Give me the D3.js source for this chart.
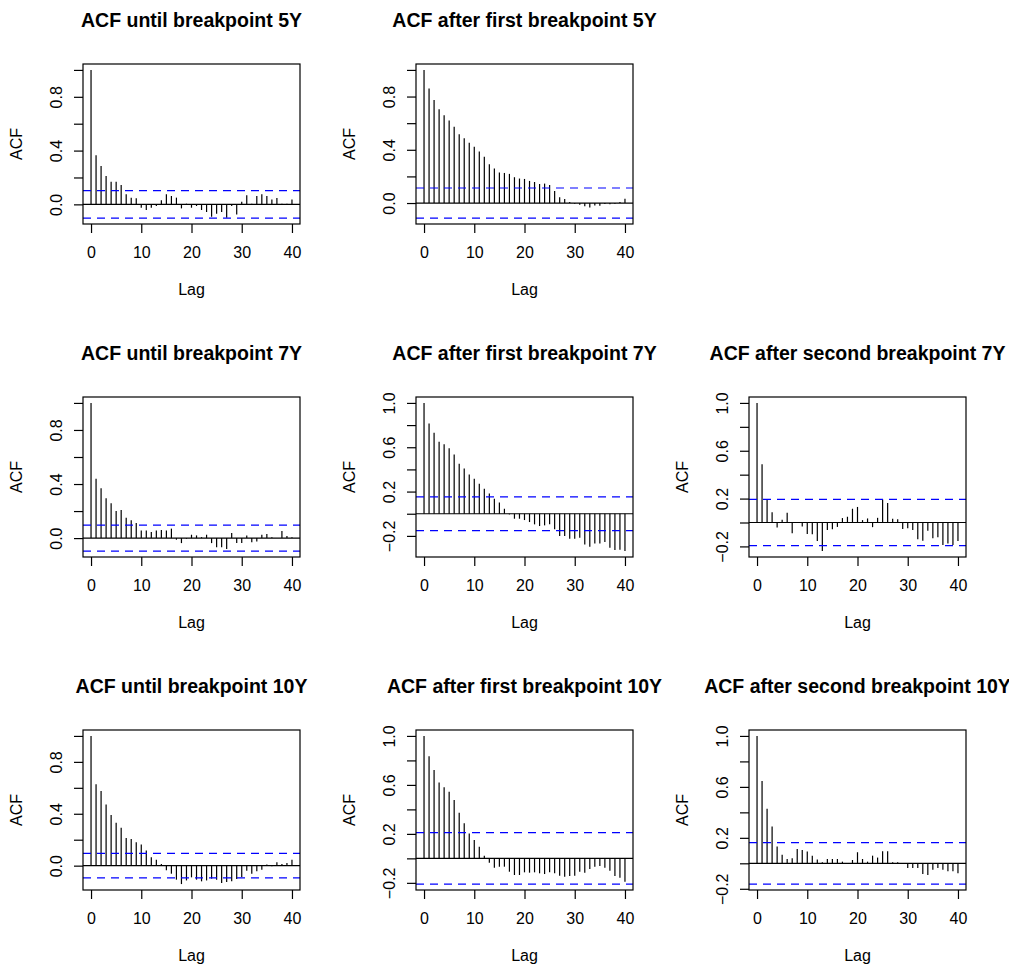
<!DOCTYPE html>
<meta charset="utf-8">
<head>
	<title>ACF by breakpoint</title>
</head>

<style>

body{
	margin: 0;
	background-color: #fff;
}

svg{
	display: block;
	font-family: "Liberation Sans", Arial, Helvetica, sans-serif;
}

.bar, .zero{
	stroke: #000;
	stroke-width: 1.2;
}

.conf{
	stroke: #0000ff;
	stroke-width: 1.2;
	stroke-dasharray: 8,6;
}

.frame{
	fill: none;
	stroke: #000;
	stroke-width: 1.2;
}

.axis text{
	font-size: 16px;
	fill: #000;
}

.axis line{
	stroke: #000;
	stroke-width: 1.2;
}

.title{
	font-size: 19.5px;
	font-weight: bold;
}

.lab{
	font-size: 16px;
}

</style>

<body>

<svg width="1009" height="967"></svg>

<script src="https://cdnjs.cloudflare.com/ajax/libs/d3/7.8.5/d3.min.js"></script>
<script>

// titles of each panel (row, col in the 3x3 grid)
var titles = [
	'ACF until breakpoint 5Y',
	'ACF after first breakpoint 5Y',
	'ACF until breakpoint 7Y',
	'ACF after first breakpoint 7Y',
	'ACF after second breakpoint 7Y',
	'ACF until breakpoint 10Y',
	'ACF after first breakpoint 10Y',
	'ACF after second breakpoint 10Y'
];
var gridRow = [0, 0, 1, 1, 1, 2, 2, 2];
var gridCol = [0, 1, 0, 1, 2, 0, 1, 2];

// confidence bound (blue dashed lines)
var clims = [0.102, 0.113, 0.096, 0.152, 0.193, 0.094, 0.21, 0.163];

// acf values, lag 0..40
var acf5Until = [1.0, 0.365, 0.286, 0.211, 0.169, 0.169, 0.144, 0.075, 0.05, 0.045,
	-0.025, -0.042, -0.025, -0.012, 0.03, 0.075, 0.062, 0.05, -0.03, 0.005,
	-0.025, -0.012, -0.042, -0.057, -0.092, -0.07, -0.057, -0.1, -0.012, -0.075,
	0.02, 0.067, 0.005, 0.062, 0.075, 0.062, 0.037, 0.047, 0.005, 0.005, 0.037];

var acf5First = [1.0, 0.86, 0.775, 0.704, 0.66, 0.62, 0.574, 0.516, 0.486, 0.453,
	0.423, 0.387, 0.347, 0.292, 0.259, 0.229, 0.226, 0.219, 0.194, 0.184,
	0.181, 0.166, 0.158, 0.143, 0.146, 0.136, 0.09, 0.043, 0.03, 0.008,
	-0.005, -0.013, -0.025, -0.033, -0.018, -0.02, -0.008, -0.01, -0.005, 0.008, 0.033];

var acf7Until = [1.0, 0.439, 0.369, 0.294, 0.257, 0.2, 0.207, 0.15, 0.132, 0.112,
	0.057, 0.057, 0.045, 0.057, 0.06, 0.057, 0.07, -0.012, -0.037, -0.005,
	0.025, 0.02, 0.007, 0.025, -0.037, -0.067, -0.067, -0.08, 0.037, -0.037,
	-0.037, 0.02, -0.03, -0.025, 0.025, 0.03, 0.007, 0.0, 0.052, 0.015, 0.007];

var acf7First = [1.0, 0.815, 0.731, 0.65, 0.626, 0.59, 0.535, 0.451, 0.409, 0.355,
	0.316, 0.271, 0.226, 0.183, 0.135, 0.102, 0.045, -0.006, -0.045, -0.045,
	-0.057, -0.075, -0.096, -0.111, -0.105, -0.096, -0.141, -0.2, -0.2, -0.225,
	-0.225, -0.216, -0.277, -0.298, -0.268, -0.268, -0.256, -0.307, -0.328, -0.325, -0.337];

var acf7Second = [1.0, 0.487, 0.189, 0.085, -0.042, 0.023, 0.082, -0.09, 0.002, -0.034,
	-0.096, -0.099, -0.155, -0.239, -0.062, -0.056, -0.037, 0.037, 0.048, 0.115,
	0.13, 0.02, 0.034, -0.039, 0.039, 0.192, 0.163, 0.031, 0.028, -0.054,
	-0.048, -0.062, -0.141, -0.152, -0.07, -0.132, -0.124, -0.189, -0.175, -0.189, -0.155];

var acf10Until = [1.0, 0.627, 0.575, 0.472, 0.39, 0.33, 0.292, 0.214, 0.206, 0.181,
	0.163, 0.116, 0.065, 0.046, 0.013, -0.036, -0.062, -0.108, -0.142, -0.114,
	-0.09, -0.108, -0.121, -0.114, -0.1, -0.108, -0.134, -0.126, -0.121, -0.103,
	-0.088, -0.039, -0.062, -0.044, -0.031, 0.008, -0.005, 0.026, 0.013, 0.021, 0.046];

var acf10First = [1.0, 0.835, 0.721, 0.62, 0.58, 0.544, 0.476, 0.373, 0.286, 0.204,
	0.15, 0.095, 0.022, -0.035, -0.076, -0.068, -0.068, -0.109, -0.136, -0.136,
	-0.114, -0.117, -0.114, -0.122, -0.128, -0.114, -0.122, -0.141, -0.15, -0.144,
	-0.141, -0.109, -0.117, -0.087, -0.068, -0.063, -0.076, -0.101, -0.144, -0.158, -0.19];

var acf10Second = [1.0, 0.647, 0.429, 0.289, 0.132, 0.068, 0.034, 0.039, 0.113, 0.105,
	0.092, 0.06, 0.029, 0.008, 0.034, 0.034, 0.034, 0.013, 0.002, 0.026,
	0.087, 0.034, 0.013, 0.06, 0.045, 0.095, 0.095, 0.008, 0.008, -0.005,
	-0.037, -0.037, -0.037, -0.084, -0.092, -0.05, -0.037, -0.05, -0.063, -0.063, -0.079];

var acfs = [acf5Until, acf5First, acf7Until, acf7First, acf7Second, acf10Until, acf10First, acf10Second];

// axis ticks
var xTicks = [0, 10, 20, 30, 40];
var yTicksPos = [0, 0.2, 0.4, 0.6, 0.8, 1.0];
var yLabelsPos = [0, 0.4, 0.8];
var yTicksNeg = [-0.2, 0, 0.2, 0.4, 0.6, 0.8, 1.0];
var yLabelsNeg = [-0.2, 0.2, 0.6, 1.0];

// layout
var left0 = 83, top0 = 64, pitch = 333;
var boxW = 217, boxH = 160;

var svg = d3.select('svg');
var fmt = d3.format('.1f');

acfs.forEach(function(acf, k){
	var g = svg.append('g')
		.attr('transform', 'translate(' + (left0 + gridCol[k] * pitch) + ',' + (top0 + gridRow[k] * pitch) + ')');

	var clim = clims[k];
	var lo = Math.min(-clim, d3.min(acf));
	var hi = Math.max(clim, d3.max(acf));
	var pad = (hi - lo) * 0.04;

	var x = d3.scaleLinear().domain([-1.6, 41.6]).range([0, boxW]);
	var y = d3.scaleLinear().domain([lo - pad, hi + pad]).range([boxH, 0]);

	var neg = lo - pad < -0.2;
	var yTicks = neg ? yTicksNeg : yTicksPos;
	var yLabels = neg ? yLabelsNeg : yLabelsPos;

	// bars
	g.selectAll('line.bar')
		.data(acf)
		.join('line')
		.attr('class', 'bar')
		.attr('x1', function(d, i){ return x(i); })
		.attr('x2', function(d, i){ return x(i); })
		.attr('y1', y(0))
		.attr('y2', function(d){ return y(d); });

	// zero line
	g.append('line')
		.attr('class', 'zero')
		.attr('x1', 0).attr('x2', boxW)
		.attr('y1', y(0)).attr('y2', y(0));

	// confidence bounds
	g.selectAll('line.conf')
		.data([clim, -clim])
		.join('line')
		.attr('class', 'conf')
		.attr('x1', 0).attr('x2', boxW)
		.attr('y1', function(d){ return y(d); })
		.attr('y2', function(d){ return y(d); });

	g.append('rect')
		.attr('class', 'frame')
		.attr('width', boxW)
		.attr('height', boxH);

	// x axis
	g.append('g')
		.attr('class', 'axis')
		.attr('transform', 'translate(0,' + boxH + ')')
		.call(d3.axisBottom(x).tickValues(xTicks).tickSize(9).tickPadding(14))
		.call(function(a){ a.select('.domain').remove(); })
		.selectAll('text')
		.attr('font-family', null)
		.attr('font-size', null);

	// y axis
	g.append('g')
		.attr('class', 'axis')
		.call(d3.axisLeft(y).tickValues(yTicks).tickSize(9)
			.tickFormat(function(d){ return yLabels.indexOf(d) >= 0 ? fmt(d) : ''; }))
		.call(function(a){ a.select('.domain').remove(); })
		.selectAll('text')
		.attr('font-family', null)
		.attr('font-size', null)
		.attr('x', null)
		.attr('dy', null)
		.attr('text-anchor', 'middle')
		.attr('dominant-baseline', 'central')
		.attr('transform', 'translate(-27,0) rotate(-90)');

	g.append('text')
		.attr('class', 'title')
		.attr('x', boxW / 2)
		.attr('y', -44)
		.attr('text-anchor', 'middle')
		.attr('dominant-baseline', 'central')
		.text(titles[k]);

	g.append('text')
		.attr('class', 'lab')
		.attr('x', boxW / 2)
		.attr('y', boxH + 65)
		.attr('text-anchor', 'middle')
		.attr('dominant-baseline', 'central')
		.text('Lag');

	g.append('text')
		.attr('class', 'lab')
		.attr('transform', 'translate(-67,' + (boxH / 2) + ') rotate(-90)')
		.attr('text-anchor', 'middle')
		.attr('dominant-baseline', 'central')
		.text('ACF');
});

</script>

</body>
</html>
